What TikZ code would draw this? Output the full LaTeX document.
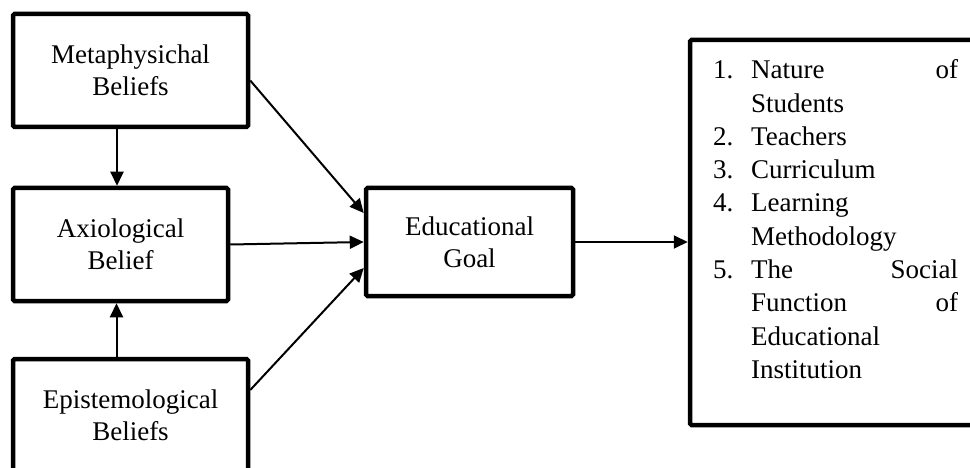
\documentclass[tikz,border=0pt]{standalone}
\usepackage{fontspec}
\setmainfont{Liberation Serif}
\usetikzlibrary{arrows.meta}
\begin{document}
\begin{tikzpicture}[x=1pt,y=-1pt,
  boxnode/.style={draw=black, line width=4.5pt, rounded corners=1.5pt, fill=white, inner sep=0pt, align=center,
    font=\fontsize{27}{32}\selectfont},
  txt/.style={inner sep=0pt, align=center, font=\fontsize{27}{32}\selectfont},
  arr/.style={line width=2pt, -{Triangle[length=14pt,width=13pt]}}]
\path[use as bounding box, clip] (0,0) rectangle (970,468);
\fill[white] (0,0) rectangle (970,468);
\node[boxnode, minimum width=235pt, minimum height=113pt] (meta) at (130.5,70.5) {Metaphysichal\\Beliefs};
\node[boxnode, minimum width=215pt, minimum height=113pt] (axio) at (120.5,244.5) {Axiological\\Belief};
\node[boxnode, minimum width=235pt, minimum height=141pt] (epi) at (130.5,429.5) {};
\node[txt] (epit) at (130.5,415) {Epistemological\\Beliefs};
\node[boxnode, minimum width=207pt, minimum height=108pt] (edu) at (469.5,242) {Educational\\Goal};
\node[boxnode, minimum width=320pt, minimum height=385pt] (res) at (850,232.5) {};
\node[inner sep=0pt, anchor=north west, align=left, font=\fontsize{27}{33.3}\selectfont] (lst) at (713,59.5) {%
\makebox[38pt][l]{1.}\makebox[207pt][s]{Nature of}\\
\makebox[38pt][l]{}Students\\
\makebox[38pt][l]{2.}Teachers\\
\makebox[38pt][l]{3.}Curriculum\\
\makebox[38pt][l]{4.}Learning\\
\makebox[38pt][l]{}Methodology\\
\makebox[38pt][l]{5.}\makebox[207pt][s]{The Social}\\
\makebox[38pt][l]{}\makebox[207pt][s]{Function of}\\
\makebox[38pt][l]{}Educational\\
\makebox[38pt][l]{}Institution};
\draw[arr] ([xshift=-13.5pt]meta.south) -- ([xshift=-3.5pt]axio.north);
\draw[arr] ([xshift=-14pt]epi.north) -- ([xshift=-4pt]axio.south);
\draw[arr] ([yshift=-10pt]meta.east) -- ([yshift=29pt]edu.west);
\draw[arr] (axio.east) -- (edu.west);
\draw[arr] ([yshift=39.5pt]epi.east) -- ([yshift=-26pt]edu.west);
\draw[arr] (edu.east) -- (edu.east -| res.west);
\end{tikzpicture}
\end{document}
